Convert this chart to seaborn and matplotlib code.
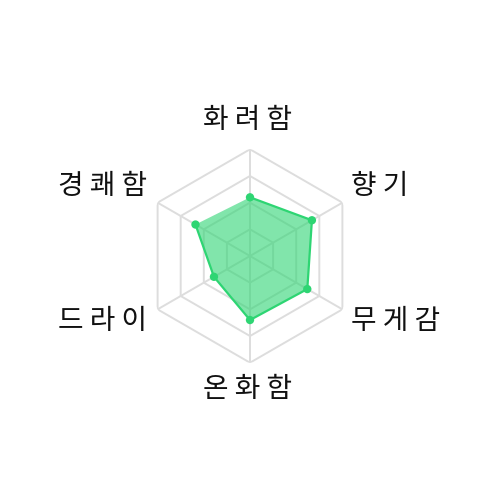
import numpy as np
import pandas as pd
import matplotlib
matplotlib.use("Agg")
import matplotlib.pyplot as plt
import seaborn as sns

# ============================================================================
# DATA
# ============================================================================
categories = ['화려함', '향기', '무게감', '온화함', '드라이', '경쾌함']
scores = [55, 67, 62, 60, 39, 59]
grid_levels = [25, 50, 75, 100]

LINE_COLOR = '#2ed573'
GRID_COLOR = '#dddddd'

sns.set_style("white")
plt.rcParams['font.family'] = ['Noto Sans CJK KR', 'DejaVu Sans']


def plot_radar():
    n = len(categories)
    theta = np.arange(n) * 2 * np.pi / n

    fig = plt.figure(figsize=(5, 5), dpi=100)
    ax = fig.add_axes([0.2866, 0.2746, 0.4268, 0.4268], projection='polar')
    ax.set_theta_zero_location('N')
    ax.set_theta_direction(-1)
    ax.set_ylim(0, 100)
    ax.grid(False)
    ax.spines['polar'].set_visible(False)
    ax.set_xticks([])
    ax.set_yticks([])
    ax.patch.set_alpha(0)

    # hexagon grid
    closed = np.append(theta, theta[0])
    for lv in grid_levels:
        ax.plot(closed, [lv] * (n + 1), color=GRID_COLOR, lw=1.4, zorder=1)
    for t in theta:
        ax.plot([t, t], [0, grid_levels[-1]], color=GRID_COLOR, lw=1.4, zorder=1)

    df = pd.DataFrame({'theta': np.append(theta, theta[0]),
                       'score': scores + [scores[0]]})
    ax.fill(df['theta'], df['score'], color=LINE_COLOR, alpha=0.6, lw=0, zorder=2)
    sns.lineplot(data=df, x='theta', y='score', sort=False, color=LINE_COLOR,
                 lw=1.6, ax=ax, zorder=3)
    sns.scatterplot(data=df.iloc[:-1], x='theta', y='score', color=LINE_COLOR,
                    s=36, edgecolor='none', ax=ax, zorder=4)
    ax.set_xlabel('')
    ax.set_ylabel('')

    # point labels, placed just outside the outer hexagon
    for t, name in zip(theta, categories):
        sx, cy = np.sin(t), np.cos(t)
        label = ' '.join(name)
        if abs(sx) < 0.1:
            ha = 'center'
            off = (-3, 29) if cy > 0 else (-3, -26)
        else:
            ha = 'left' if sx > 0 else 'right'
            dx = 9 if sx > 0 else -11
            dy = 17 if cy > 0 else -12
            off = (dx, dy)
        ax.annotate(label, xy=(t, grid_levels[-1]), xytext=off,
                    textcoords='offset pixels', ha=ha, va='center',
                    fontsize=20, color='#111111')

    fig.savefig('out.png', dpi=100)
    plt.close(fig)


if __name__ == "__main__":
    plot_radar()
